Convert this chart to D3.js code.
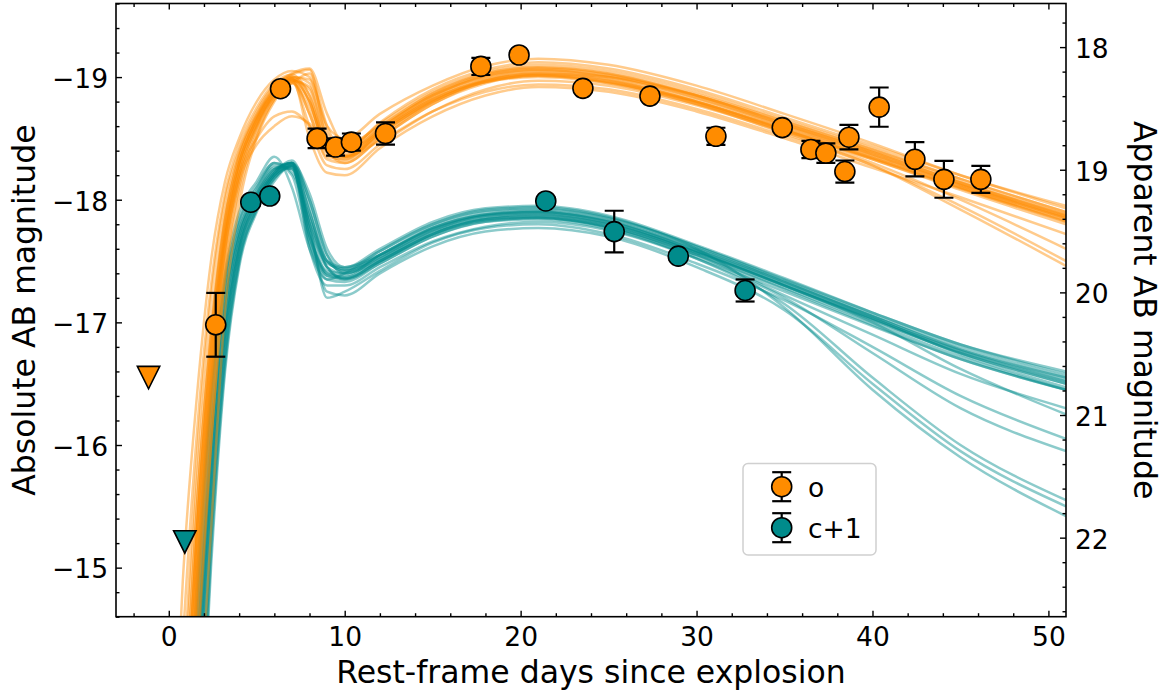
<!DOCTYPE html>
<html><head><meta charset="utf-8">
<script src="https://cdn.jsdelivr.net/npm/d3@7"></script>
<style>body{margin:0;background:#fff;} svg{display:block;font-family:"DejaVu Sans",sans-serif;}</style>
</head><body><svg id="chart" width="1170" height="694"></svg>
<script>
// ---------- data ----------
const modelDays = [0.0,0.8,1.6,2.4,3.2,4.0,5.0,6.0,7.0,8.0,9.0,10.0,12,15,18,21,25,30,35,40,45,51];

const oModels = [
 [-12.5,-14.9,-16.4,-17.5,-18.15,-18.5,-18.8,-18.98,-19.05,-19.0,-18.6,-18.5,-18.7,-18.93,-19.09,-19.15,-19.1,-18.93,-18.7,-18.46,-18.2,-17.95],
 [-11.8,-14.0,-15.9,-17.2,-18.0,-18.4,-18.72,-18.93,-19.02,-19.06,-18.5,-18.42,-18.62,-18.88,-19.04,-19.1,-19.05,-18.88,-18.65,-18.42,-18.17,-17.9],
 [-11.4,-13.5,-15.5,-16.9,-17.85,-18.35,-18.68,-18.9,-19.0,-18.8,-18.42,-18.38,-18.58,-18.85,-19.0,-19.06,-19.0,-18.83,-18.6,-18.37,-18.12,-17.85],
 [-11.0,-13.0,-15.2,-16.7,-17.75,-18.3,-18.65,-18.88,-18.98,-18.7,-18.35,-18.33,-18.55,-18.82,-18.98,-19.04,-18.98,-18.8,-18.57,-18.33,-18.08,-17.8],
 [-10.6,-12.5,-14.8,-16.4,-17.6,-18.2,-18.6,-18.85,-18.97,-18.9,-18.4,-18.3,-18.5,-18.78,-18.95,-19.02,-18.97,-18.8,-18.58,-18.36,-18.12,-17.86],
 [-10.2,-12.0,-14.3,-16.0,-17.4,-18.1,-18.55,-18.82,-18.95,-19.03,-18.6,-18.35,-18.52,-18.8,-18.97,-19.03,-19.0,-18.85,-18.63,-18.4,-18.15,-17.88],
 [-9.8,-11.5,-13.4,-15.3,-17.1,-17.95,-18.5,-18.8,-18.96,-18.6,-18.28,-18.25,-18.45,-18.72,-18.9,-18.97,-18.93,-18.77,-18.55,-18.3,-18.0,-17.6],
 [-11.2,-13.2,-15.3,-16.8,-17.7,-18.2,-18.5,-18.68,-18.72,-18.6,-18.4,-18.35,-18.48,-18.72,-18.88,-18.94,-18.9,-18.74,-18.52,-18.28,-17.95,-17.5],
 [-10.8,-12.8,-15.0,-16.6,-17.7,-18.25,-18.62,-18.86,-18.99,-18.5,-18.22,-18.2,-18.42,-18.68,-18.85,-18.92,-18.88,-18.72,-18.5,-18.26,-18.02,-17.72],
 [-11.7,-13.8,-15.7,-17.0,-17.9,-18.38,-18.7,-18.92,-19.03,-19.07,-18.7,-18.45,-18.6,-18.87,-19.03,-19.08,-19.03,-18.85,-18.62,-18.39,-18.14,-17.87],
 [-10.4,-12.3,-14.6,-16.2,-17.5,-18.15,-18.58,-18.84,-18.95,-18.75,-18.38,-18.32,-18.53,-18.8,-18.96,-19.01,-18.95,-18.78,-18.56,-18.34,-18.1,-17.84],
 [-12.2,-14.4,-16.1,-17.3,-18.05,-18.45,-18.75,-18.95,-19.02,-18.85,-18.45,-18.4,-18.63,-18.9,-19.06,-19.12,-19.07,-18.9,-18.67,-18.44,-18.2,-17.93],
 [-11.2,-13.3,-15.3,-16.8,-17.8,-18.3,-18.66,-18.88,-18.98,-18.8,-18.4,-18.36,-18.56,-18.82,-18.97,-19.02,-18.96,-18.78,-18.54,-18.28,-17.92,-17.46],
 [-10.8,-12.7,-14.9,-16.5,-17.6,-18.15,-18.45,-18.6,-18.68,-18.62,-18.45,-18.4,-18.55,-18.8,-18.96,-19.0,-18.95,-18.8,-18.58,-18.35,-18.1,-17.82],
 [-10.5,-12.4,-14.6,-16.3,-17.55,-18.2,-18.6,-18.85,-18.97,-18.92,-18.45,-18.35,-18.55,-18.83,-19.0,-19.05,-19.0,-18.82,-18.6,-18.37,-18.12,-17.85],
 [-11.0,-13.1,-15.1,-16.6,-17.7,-18.28,-18.64,-18.87,-18.99,-18.85,-18.42,-18.36,-18.57,-18.84,-19.01,-19.06,-19.01,-18.84,-18.61,-18.38,-18.13,-17.86],
 [-11.5,-13.6,-15.5,-16.9,-17.85,-18.35,-18.68,-18.9,-19.0,-18.95,-18.5,-18.4,-18.6,-18.86,-19.02,-19.07,-19.02,-18.85,-18.62,-18.39,-18.14,-17.88],
 [-10.0,-12.0,-14.2,-16.0,-17.35,-18.05,-18.52,-18.82,-18.96,-18.7,-18.33,-18.3,-18.5,-18.78,-18.96,-19.01,-18.96,-18.79,-18.56,-18.33,-18.09,-17.82],
 [-11.2,-13.3,-15.3,-16.7,-17.75,-18.3,-18.66,-18.89,-19.0,-18.98,-18.55,-18.4,-18.58,-18.85,-19.02,-19.08,-19.03,-18.86,-18.64,-18.41,-18.17,-17.9],
 [-10.8,-12.8,-14.9,-16.5,-17.65,-18.25,-18.62,-18.86,-18.98,-18.8,-18.4,-18.34,-18.54,-18.81,-18.98,-19.03,-18.98,-18.8,-18.57,-18.34,-18.1,-17.83]
];

const cModels = [
 [-9.5,-12.0,-14.7,-16.4,-17.35,-17.85,-18.12,-18.3,-18.22,-17.85,-17.5,-17.45,-17.6,-17.82,-17.93,-17.95,-17.87,-17.63,-17.36,-17.08,-16.82,-16.58],
 [-9.0,-11.5,-14.2,-16.1,-17.2,-17.75,-18.05,-18.25,-18.3,-17.7,-17.4,-17.38,-17.55,-17.76,-17.88,-17.9,-17.82,-17.58,-17.3,-17.02,-16.75,-16.5],
 [-8.6,-11.0,-13.8,-15.8,-17.0,-17.65,-18.0,-18.22,-18.32,-18.0,-17.55,-17.4,-17.5,-17.72,-17.84,-17.87,-17.8,-17.57,-17.3,-17.03,-16.77,-16.52],
 [-8.2,-10.5,-13.3,-15.4,-16.8,-17.55,-17.95,-18.2,-18.27,-17.6,-17.3,-17.3,-17.45,-17.66,-17.78,-17.82,-17.75,-17.52,-17.2,-16.75,-16.3,-15.95],
 [-7.8,-10.0,-12.8,-15.0,-16.6,-17.45,-17.9,-18.15,-18.28,-17.9,-17.45,-17.35,-17.48,-17.7,-17.82,-17.85,-17.78,-17.55,-17.27,-16.98,-16.7,-16.45],
 [-9.8,-12.3,-14.9,-16.5,-17.4,-17.9,-18.15,-18.35,-18.1,-17.6,-17.35,-17.4,-17.58,-17.8,-17.91,-17.93,-17.85,-17.6,-17.12,-16.45,-15.9,-15.42],
 [-8.8,-11.2,-14.0,-15.9,-17.1,-17.7,-18.02,-18.24,-18.3,-17.75,-17.25,-17.22,-17.4,-17.62,-17.74,-17.77,-17.7,-17.45,-17.1,-16.5,-15.95,-15.5],
 [-8.4,-10.8,-13.5,-15.6,-16.9,-17.6,-17.98,-18.2,-18.3,-18.05,-17.6,-17.45,-17.55,-17.77,-17.88,-17.9,-17.83,-17.6,-17.33,-17.05,-16.78,-16.55],
 [-9.3,-11.8,-14.5,-16.3,-17.3,-17.8,-18.08,-18.28,-18.25,-17.8,-17.2,-17.25,-17.42,-17.65,-17.77,-17.8,-17.72,-17.48,-17.18,-16.8,-16.4,-16.05],
 [-8.0,-10.2,-13.0,-15.2,-16.7,-17.5,-17.92,-18.18,-18.26,-17.7,-17.42,-17.4,-17.55,-17.78,-17.9,-17.92,-17.85,-17.62,-17.35,-17.08,-16.82,-16.6],
 [-9.0,-11.4,-14.1,-16.0,-17.15,-17.72,-18.03,-18.23,-18.3,-17.95,-17.5,-17.42,-17.52,-17.74,-17.85,-17.88,-17.8,-17.57,-17.3,-17.0,-16.62,-16.25],
 [-8.3,-10.6,-13.4,-15.5,-16.85,-17.58,-17.96,-18.2,-18.28,-17.85,-17.45,-17.36,-17.5,-17.72,-17.84,-17.86,-17.78,-17.55,-17.28,-17.0,-16.72,-16.45],
 [-9.5,-12.0,-14.6,-16.35,-17.3,-17.82,-18.1,-18.3,-18.2,-17.65,-17.38,-17.35,-17.5,-17.72,-17.83,-17.85,-17.77,-17.52,-17.15,-16.55,-16.0,-15.55],
 [-8.6,-11.0,-13.7,-15.7,-16.95,-17.62,-18.0,-18.22,-18.3,-17.8,-17.48,-17.44,-17.58,-17.8,-17.92,-17.94,-17.86,-17.62,-17.34,-17.06,-16.8,-16.56],
 [-8.5,-10.5,-13.2,-15.3,-16.75,-17.52,-17.94,-18.18,-18.28,-17.75,-17.4,-17.37,-17.52,-17.74,-17.86,-17.88,-17.8,-17.57,-17.3,-17.02,-16.75,-16.5],
 [-9.0,-11.2,-13.9,-15.8,-17.0,-17.65,-18.0,-18.22,-18.3,-17.9,-17.5,-17.42,-17.55,-17.77,-17.88,-17.91,-17.83,-17.6,-17.33,-17.05,-16.78,-16.54],
 [-8.0,-10.2,-12.9,-15.1,-16.65,-17.48,-17.92,-18.17,-18.27,-17.65,-17.35,-17.33,-17.48,-17.7,-17.82,-17.84,-17.76,-17.53,-17.25,-16.97,-16.7,-16.45],
 [-9.2,-11.5,-14.1,-15.95,-17.1,-17.7,-18.04,-18.25,-18.28,-17.8,-17.45,-17.4,-17.53,-17.75,-17.87,-17.89,-17.81,-17.58,-17.31,-17.03,-16.76,-16.52],
 [-8.8,-10.8,-13.6,-15.6,-16.9,-17.6,-17.97,-18.2,-18.29,-18.0,-17.55,-17.43,-17.54,-17.76,-17.87,-17.9,-17.82,-17.59,-17.32,-17.04,-16.74,-16.47],
 [-9.5,-11.8,-14.3,-16.1,-17.2,-17.75,-18.06,-18.26,-18.25,-17.72,-17.38,-17.36,-17.5,-17.72,-17.84,-17.86,-17.78,-17.55,-17.22,-16.9,-16.58,-16.3]
];

// observed photometry (absolute magnitudes)
const oDays = [2.67,6.35,8.43,9.48,10.38,12.32,17.74,19.91,23.54,27.35,31.10,34.87,36.50,37.35,38.66,38.43,40.38,42.41,44.06,46.16];
const oMags = [-16.98,-18.905,-18.50,-18.43,-18.47,-18.54,-19.087,-19.18,-18.908,-18.845,-18.517,-18.588,-18.41,-18.38,-18.51,-18.23,-18.755,-18.33,-18.166,-18.166];
const oErrs = [0.26,0.03,0.08,0.07,0.07,0.09,0.07,0.03,0.03,0.03,0.07,0.03,0.07,0.08,0.10,0.09,0.16,0.14,0.15,0.11];

const cDays = [4.66,5.74,21.43,25.32,28.96,32.76];
const cMags = [-17.98,-18.03,-17.99,-17.74,-17.54,-17.26];
const cErrs = [0.03,0.03,0.03,0.17,0.03,0.09];

// upper limits (non-detections)
const limDays = [-1.15,0.91];
const limMags = [-16.55,-15.21];
const limBands = ["o","c+1"];

const bandNames = ["o","c+1"];
const bandColors = ["#ff8c00","#008b8b"];

const xTickVals = [0,10,20,30,40,50];
const yTickVals = [-19,-18,-17,-16,-15];
const appTickVals = [18,19,20,21,22];
const distMod = 37.2445;

// ---------- layout ----------
const L = 116, R = 1066, T = 3.5, B = 616.7;
const svg = d3.select("#chart");

const x = d3.scaleLinear().domain([-3.0, 51.0]).range([L, R]);
const y = d3.scaleLinear().domain([-19.6, -14.6]).range([T, B]);
const yApp = d3.scaleLinear().domain([-19.6 + distMod, -14.6 + distMod]).range([T, B]);

svg.append("defs").append("clipPath").attr("id","plotclip")
  .append("rect").attr("x",L).attr("y",T).attr("width",R-L).attr("height",B-T);

const plot = svg.append("g").attr("clip-path","url(#plotclip)");

const line = d3.line().x(p => x(p[0])).y(p => y(p[1])).curve(d3.curveMonotoneX);

function drawModels(models, color){
  plot.append("g").selectAll("path").data(models).join("path")
    .attr("d", m => line(modelDays.map((d,i)=>[d, m[i]])))
    .attr("fill","none").attr("stroke",color)
    .attr("stroke-width",2.5).attr("stroke-opacity",0.45)
    .attr("stroke-linejoin","round");
}
drawModels(cModels, bandColors[1]);
drawModels(oModels, bandColors[0]);

const cap = 9.5;
function drawPoints(days, mags, errs, color){
  const g = plot.append("g");
  const idx = d3.range(days.length);
  g.selectAll("line.eb").data(idx).join("line").attr("class","eb")
    .attr("x1", i=>x(days[i])).attr("x2", i=>x(days[i]))
    .attr("y1", i=>y(mags[i]-errs[i])).attr("y2", i=>y(mags[i]+errs[i]))
    .attr("stroke","#000").attr("stroke-width",2.2);
  g.selectAll("line.ct").data(idx).join("line").attr("class","ct")
    .attr("x1", i=>x(days[i])-cap).attr("x2", i=>x(days[i])+cap)
    .attr("y1", i=>y(mags[i]-errs[i])).attr("y2", i=>y(mags[i]-errs[i]))
    .attr("stroke","#000").attr("stroke-width",2.2);
  g.selectAll("line.cb").data(idx).join("line").attr("class","cb")
    .attr("x1", i=>x(days[i])-cap).attr("x2", i=>x(days[i])+cap)
    .attr("y1", i=>y(mags[i]+errs[i])).attr("y2", i=>y(mags[i]+errs[i]))
    .attr("stroke","#000").attr("stroke-width",2.2);
  g.selectAll("circle").data(idx).join("circle")
    .attr("cx", i=>x(days[i])).attr("cy", i=>y(mags[i])).attr("r",10)
    .attr("fill",color).attr("stroke","#000").attr("stroke-width",1.6);
}
drawPoints(oDays, oMags, oErrs, bandColors[0]);
drawPoints(cDays, cMags, cErrs, bandColors[1]);

// upper-limit triangles
const th = 11.2;
plot.append("g").selectAll("path").data(d3.range(limDays.length)).join("path")
  .attr("d", i => {
    const cx = x(limDays[i]), cy = y(limMags[i]);
    return `M${cx-th},${cy-th}L${cx+th},${cy-th}L${cx},${cy+th}Z`;
  })
  .attr("fill", i => bandColors[bandNames.indexOf(limBands[i])])
  .attr("stroke","#000").attr("stroke-width",1.6).attr("stroke-linejoin","miter");

// ---------- axes ----------
const fs = 26.5;
const minus = d => (d < 0 ? "\u2212" : "") + Math.abs(d);
function styleAxis(g){
  g.select(".domain").remove();
  g.selectAll(".tick line").attr("stroke","#000").attr("stroke-width",1.4);
  g.selectAll(".tick text").attr("fill","#000").style("font-size", fs+"px")
    .style("font-family",'"DejaVu Sans",sans-serif');
}
const xMinor = d3.range(-2, 51, 2).filter(v => v % 10 !== 0);
const yMinor = d3.range(-19.6, -14.59, 0.2).map(v=>+v.toFixed(1)).filter(v => Math.abs(v - Math.round(v)) > 1e-6);
const aMinor = d3.range(17.8, 22.65, 0.2).map(v=>+v.toFixed(1)).filter(v => Math.abs(v - Math.round(v)) > 1e-6);

svg.append("g").attr("transform",`translate(0,${B})`)
  .call(d3.axisBottom(x).tickValues(xTickVals).tickSizeInner(-6).tickSizeOuter(0).tickPadding(10).tickFormat(minus)).call(styleAxis);
svg.append("g").attr("transform",`translate(0,${B})`)
  .call(d3.axisBottom(x).tickValues(xMinor).tickSizeInner(-3.5).tickSizeOuter(0).tickFormat("")).call(styleAxis);
svg.append("g").attr("transform",`translate(0,${T})`)
  .call(d3.axisTop(x).tickValues(xTickVals).tickSizeInner(-6).tickSizeOuter(0).tickFormat("")).call(styleAxis);
svg.append("g").attr("transform",`translate(0,${T})`)
  .call(d3.axisTop(x).tickValues(xMinor).tickSizeInner(-3.5).tickSizeOuter(0).tickFormat("")).call(styleAxis);
const gl = svg.append("g").attr("transform",`translate(${L},0)`)
  .call(d3.axisLeft(y).tickValues(yTickVals).tickSizeInner(-6).tickSizeOuter(0).tickPadding(8).tickFormat(minus)).call(styleAxis);
gl.selectAll(".tick text").attr("dy","0.39em");
svg.append("g").attr("transform",`translate(${L},0)`)
  .call(d3.axisLeft(y).tickValues(yMinor).tickSizeInner(-3.5).tickSizeOuter(0).tickFormat("")).call(styleAxis);
const gr = svg.append("g").attr("transform",`translate(${R},0)`)
  .call(d3.axisRight(yApp).tickValues(appTickVals).tickSizeInner(-6).tickSizeOuter(0).tickPadding(9).tickFormat(d=>d)).call(styleAxis);
gr.selectAll(".tick text").attr("dy","0.39em");
svg.append("g").attr("transform",`translate(${R},0)`)
  .call(d3.axisRight(yApp).tickValues(aMinor).tickSizeInner(-3.5).tickSizeOuter(0).tickFormat("")).call(styleAxis);

svg.append("rect").attr("x",L).attr("y",T).attr("width",R-L).attr("height",B-T)
  .attr("fill","none").attr("stroke","#000").attr("stroke-width",1.6);

const lfs = 31.5;
svg.append("text").attr("x",(L+R)/2).attr("y",683).attr("text-anchor","middle")
  .style("font-size",lfs+"px").text("Rest-frame days since explosion");
svg.append("text").attr("transform",`translate(35,${(T+B)/2}) rotate(-90)`).attr("text-anchor","middle")
  .style("font-size",lfs+"px").text("Absolute AB magnitude");
svg.append("text").attr("transform",`translate(1134,${(T+B)/2}) rotate(90)`).attr("text-anchor","middle")
  .style("font-size",lfs+"px").text("Apparent AB magnitude");

// ---------- legend ----------
const lg = svg.append("g");
lg.append("rect").attr("x",743).attr("y",463.5).attr("width",133).attr("height",91.5).attr("rx",5)
  .attr("fill","#fff").attr("fill-opacity",0.8).attr("stroke","#d0d0d0").attr("stroke-width",1.5);
const legY = [486.7, 527.7];
bandNames.forEach((name, i) => {
  const cx = 781.7, cy = legY[i];
  lg.append("line").attr("x1",cx).attr("x2",cx).attr("y1",cy-14.5).attr("y2",cy+14.5).attr("stroke","#000").attr("stroke-width",2.2);
  lg.append("line").attr("x1",cx-cap).attr("x2",cx+cap).attr("y1",cy-14.5).attr("y2",cy-14.5).attr("stroke","#000").attr("stroke-width",2.2);
  lg.append("line").attr("x1",cx-cap).attr("x2",cx+cap).attr("y1",cy+14.5).attr("y2",cy+14.5).attr("stroke","#000").attr("stroke-width",2.2);
  lg.append("circle").attr("cx",cx).attr("cy",cy).attr("r",10).attr("fill",bandColors[i]).attr("stroke","#000").attr("stroke-width",1.6);
  lg.append("text").attr("x",808).attr("y",cy+9.8).style("font-size",fs+"px").text(name);
});
</script></body></html>
